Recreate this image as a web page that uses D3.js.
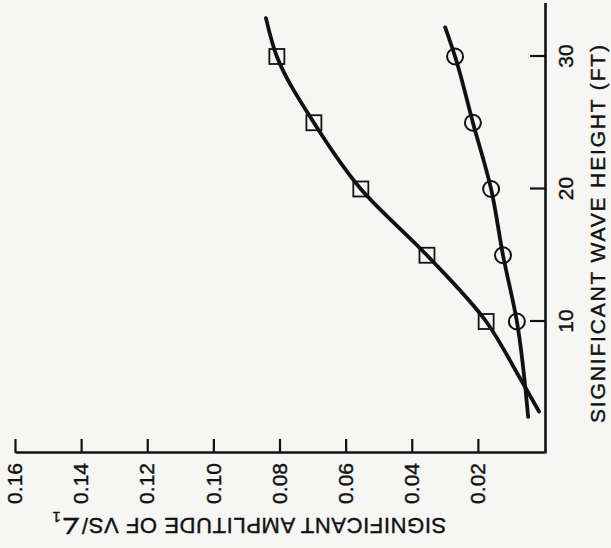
<!DOCTYPE html>
<html>
<head>
<meta charset="utf-8">
<script src="https://cdn.jsdelivr.net/npm/d3@7"></script>
<style>
  html, body { margin: 0; padding: 0; background: #f6f6f4; }
  svg { display: block; font-family: 'Liberation Sans', Arial, sans-serif; }
  .axis path, .axis line { stroke: #111; }
  .axis text { fill: #111; font-size: 21px; stroke: #111; stroke-width: 0.4px; }
  .title { fill: #111; stroke: #111; stroke-width: 0.4px; }
</style>
</head>
<body>
<div class="chart"></div>
<script>
'use strict';

// values (wave height in ft, amplitude of VS/∠1)
const waveHeights = [10, 15, 20, 25, 30];
const squareAmp = [0.0175, 0.0354, 0.0554, 0.0696, 0.0808];
const circleAmp = [0.0082, 0.0124, 0.0160, 0.0215, 0.0269];

// faired curves as drawn through the points
const squareFitH = [3.2, 6, 10, 15, 20, 25, 30, 32.9];
const squareFitAmp = [0.0015, 0.0079, 0.0175, 0.0354, 0.0554, 0.0696, 0.0808, 0.0841];
const circleFitH = [2.8, 10, 15, 20, 25, 30, 32.2];
const circleFitAmp = [0.0048, 0.0082, 0.0124, 0.0160, 0.0215, 0.0269, 0.0299];

const waveTicks = [10, 20, 30];
const ampTicks = [0.02, 0.04, 0.06, 0.08, 0.10, 0.12, 0.14, 0.16];

const WIDTH = 611;
const HEIGHT = 548;

const svg = d3.select('.chart')
  .append('svg')
    .attr('width', WIDTH)
    .attr('height', HEIGHT);

// the whole figure is printed turned a quarter turn, so draw it upright and rotate
const g = svg.append('g')
    .attr('transform', `translate(0,${HEIGHT}) rotate(-90)`);

const x = d3.scaleLinear().domain([0, 34]).range([94, 544.5]);
const y = d3.scaleLinear().domain([0, 0.16]).range([544, 15]);

g.append('g')
    .attr('class', 'axis')
    .attr('transform', `translate(0,${y(0) + 1})`)
    .call(d3.axisBottom(x)
      .tickValues(waveTicks)
      .tickSize(-15)
      .tickSizeOuter(0)
      .tickPadding(13)
      .tickFormat(d3.format('d')));

g.append('g')
    .attr('class', 'axis')
    .attr('transform', `translate(${x(0) + 1},0)`)
    .call(d3.axisLeft(y)
      .tickValues(ampTicks)
      .tickSize(-14)
      .tickSizeOuter(0)
      .tickPadding(10)
      .tickFormat(d3.format('.2f')));

g.selectAll('.axis path').attr('stroke-width', 2.6);
g.selectAll('.axis line').attr('stroke-width', 2.2);

g.append('text')
    .attr('class', 'title')
    .attr('x', 314)
    .attr('y', 605)
    .attr('text-anchor', 'middle')
    .attr('font-size', 21)
    .attr('textLength', 378)
    .attr('lengthAdjust', 'spacing')
    .text('SIGNIFICANT WAVE HEIGHT (FT)');

const ampTitle = g.append('text')
    .attr('class', 'title')
    .attr('transform', 'translate(30,249) rotate(-90)')
    .attr('text-anchor', 'middle')
    .attr('font-size', 22)
    .attr('letter-spacing', 0.6);
ampTitle.append('tspan').text('SIGNIFICANT AMPLITUDE OF VS/∠');
ampTitle.append('tspan')
    .attr('dy', 6)
    .attr('font-size', 15)
    .text('1');

const line = d3.line()
    .x((d) => x(d[0]))
    .y((d) => y(d[1]))
    .curve(d3.curveMonotoneX);

g.append('path')
    .datum(d3.zip(squareFitH, squareFitAmp))
    .attr('d', line)
    .attr('fill', 'none')
    .attr('stroke', '#111')
    .attr('stroke-width', 3.8)
    .attr('stroke-linecap', 'round');

g.append('path')
    .datum(d3.zip(circleFitH, circleFitAmp))
    .attr('d', line)
    .attr('fill', 'none')
    .attr('stroke', '#111')
    .attr('stroke-width', 3.8)
    .attr('stroke-linecap', 'round');

const S = 15;
g.append('g')
  .selectAll('rect')
  .data(d3.zip(waveHeights, squareAmp))
  .enter().append('rect')
    .attr('x', (d) => x(d[0]) - S / 2)
    .attr('y', (d) => y(d[1]) - S / 2)
    .attr('width', S)
    .attr('height', S)
    .attr('fill', 'none')
    .attr('stroke', '#111')
    .attr('stroke-width', 1.8);

g.append('g')
  .selectAll('circle')
  .data(d3.zip(waveHeights, circleAmp))
  .enter().append('circle')
    .attr('cx', (d) => x(d[0]))
    .attr('cy', (d) => y(d[1]))
    .attr('r', 8)
    .attr('fill', 'none')
    .attr('stroke', '#111')
    .attr('stroke-width', 2);
</script>
</body>
</html>
